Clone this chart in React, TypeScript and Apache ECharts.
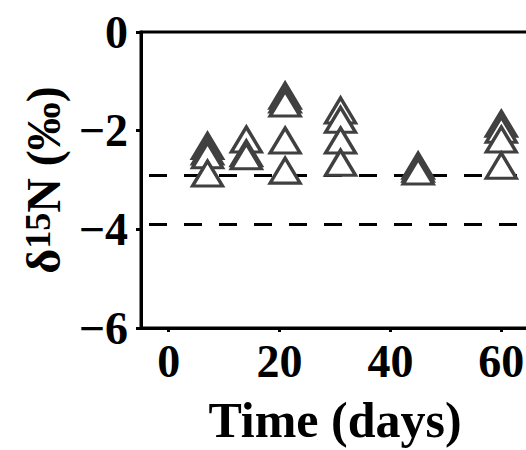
import React, { useEffect, useRef } from "react";
import * as echarts from "echarts";

const FONT = "'Liberation Serif', 'Times New Roman', serif";

// Sampling days and the δ15N values measured on each day (‰), highest first
const days = [7, 14, 21, 31, 45, 60];
const day7 = [-2.31, -2.42, -2.5, -2.87];
const day14 = [-2.18, -2.46, -2.52];
const day21 = [-1.29, -1.37, -1.45, -2.2, -2.81];
const day31 = [-1.59, -1.78, -2.2, -2.65];
const day45 = [-2.71, -2.77, -2.83];
const day60 = [-1.86, -1.98, -2.18, -2.71];

// Horizontal reference levels (dashed)
const refLines = [-2.9, -3.9];

// Axis ranges and tick positions
const xRange = [-5, 65];
const xTicks = [0, 20, 40, 60];
const yRange = [-6, 0];
const yStep = 2;

const byDay = [day7, day14, day21, day31, day45, day60];
const points = days.flatMap((d, i) => byDay[i].map((v) => [d, v]));

const labelStyle = {
  fontFamily: FONT,
  fontWeight: "bold" as const,
  color: "#000",
};

const option = {
  animation: false,
  grid: {
    left: 141,
    top: 32,
    width: 388,
    height: 297,
    show: true,
    borderColor: "#000",
    borderWidth: 3,
    backgroundColor: "transparent",
  },
  xAxis: {
    type: "value",
    min: xRange[0],
    max: xRange[1],
    axisLine: { show: true, onZero: false, lineStyle: { color: "#000", width: 3 } },
    axisTick: {
      show: true,
      customValues: xTicks,
      length: 4,
      lineStyle: { color: "#000", width: 3 },
    },
    axisLabel: {
      customValues: xTicks,
      margin: 10,
      fontSize: 46,
      lineHeight: 46,
      ...labelStyle,
    },
    splitLine: { show: false },
    name: "Time (days)",
    nameLocation: "middle",
    nameGap: 67,
    nameTextStyle: { fontSize: 50, lineHeight: 50, ...labelStyle },
  },
  yAxis: {
    type: "value",
    min: yRange[0],
    max: yRange[1],
    interval: yStep,
    axisLine: { show: true, onZero: false, lineStyle: { color: "#000", width: 3 } },
    axisTick: { show: true, length: 5, lineStyle: { color: "#000", width: 3 } },
    axisLabel: {
      margin: 13,
      fontSize: 46,
      lineHeight: 46,
      ...labelStyle,
      formatter: (v: number) => (v < 0 ? "\u2212" + Math.abs(v) : String(v)),
    },
    splitLine: { show: false },
    name: "{d|δ}{s|15}{d|N (‰)}",
    nameLocation: "middle",
    nameRotate: 90,
    nameGap: 69,
    nameTextStyle: {
      fontSize: 48,
      lineHeight: 48,
      ...labelStyle,
      rich: {
        d: { fontSize: 48, lineHeight: 48, ...labelStyle },
        s: { fontSize: 36, lineHeight: 12, verticalAlign: "top", ...labelStyle },
      },
    },
  },
  series: [
    {
      type: "line",
      data: [],
      z: 1,
      markLine: {
        z: 1,
        silent: true,
        symbol: ["none", "none"],
        label: { show: false },
        lineStyle: { color: "#000", width: 3, type: [18, 17], dashOffset: 26.5 },
        data: refLines.map((v) => ({ yAxis: v })),
      },
    },
    {
      type: "scatter",
      z: 3,
      data: points,
      symbol: "triangle",
      symbolSize: [30, 25],
      itemStyle: { color: "#fff", borderColor: "#404040", borderWidth: 3.3, opacity: 1 },
    },
  ],
};

export default function App() {
  const ref = useRef<HTMLDivElement>(null);
  useEffect(() => {
    const chart = echarts.init(ref.current!, null, { renderer: "svg" });
    chart.setOption(option as any);
    return () => chart.dispose();
  }, []);
  return (
    <div
      style={{
        position: "fixed",
        left: 0,
        top: 0,
        width: 526,
        height: 450,
        overflow: "hidden",
        background: "#fff",
      }}
    >
      <div ref={ref} style={{ width: 560, height: 450 }} />
    </div>
  );
}
